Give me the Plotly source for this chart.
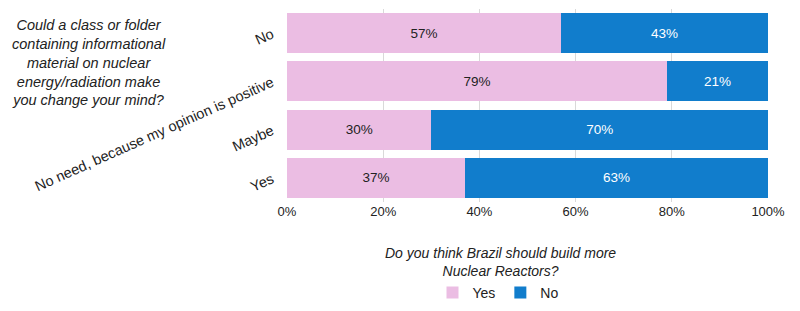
import plotly.graph_objects as go

categories = ["Yes", "Maybe", "No need, because my opinion is positive", "No"]
yes_values = [37, 30, 79, 57]
no_values = [63, 70, 21, 43]
x_ticks = [0, 20, 40, 60, 80, 100]
x_tick_labels = ["0%", "20%", "40%", "60%", "80%", "100%"]

font_family = "Liberation Sans, Arial, sans-serif"

# page has an 8px body margin; figure is sized to fit the remaining viewport
PLOT_TOP, PLOT_BOTTOM, PLOT_LEFT, PLOT_RIGHT = 9, 202, 287, 768  # page pixels
PLOT_H = PLOT_BOTTOM - PLOT_TOP
PLOT_W = PLOT_RIGHT - PLOT_LEFT


def py(page_y):
    return (PLOT_BOTTOM - page_y) / PLOT_H


def px(page_x):
    return (page_x - PLOT_LEFT) / PLOT_W


fig = go.Figure()
fig.add_trace(go.Bar(
    y=categories, x=yes_values, name="Yes", orientation="h",
    marker=dict(color="#EBBDE3", line=dict(width=0)),
    text=[f"{v}%" for v in yes_values], textposition="inside",
    insidetextanchor="middle",
    textfont=dict(color="#222222", size=13.5, family=font_family),
    hoverinfo="skip",
))
fig.add_trace(go.Bar(
    y=categories, x=no_values, name="No", orientation="h",
    marker=dict(color="#117DCC", line=dict(width=0)),
    text=[f"{v}%" for v in no_values], textposition="inside",
    insidetextanchor="middle",
    textfont=dict(color="#FFFFFF", size=13.5, family=font_family),
    hoverinfo="skip",
))

fig.update_layout(
    width=792, height=303,
    barmode="stack", bargap=0.17,
    margin=dict(l=PLOT_LEFT - 8, r=792 - (PLOT_RIGHT - 8), t=PLOT_TOP - 8,
                b=303 - (PLOT_BOTTOM - 8), pad=0),
    paper_bgcolor="white", plot_bgcolor="white",
    font=dict(family=font_family, size=13, color="#222222"),
    uniformtext=dict(mode="show", minsize=10),
    showlegend=True,
    legend=dict(orientation="h", x=px(498), xanchor="center", y=py(293), yanchor="middle",
                font=dict(size=14), itemwidth=30, traceorder="normal",
                tracegroupgap=0),
    xaxis=dict(range=[0, 100], tickvals=x_ticks, ticktext=x_tick_labels,
               showgrid=True, gridcolor="#D9D9D9", gridwidth=1, zeroline=False,
               showline=False, ticks="", tickfont=dict(size=13), automargin=False),
    yaxis=dict(showgrid=False, zeroline=False, showline=False, ticks="",
               tickangle=-24, tickfont=dict(size=14.5), ticklabelstandoff=14,
               automargin=False),
)

fig.add_annotation(
    text="<i>Do you think Brazil should build more<br>Nuclear Reactors?</i>",
    xref="paper", yref="paper", x=px(500), y=py(262), xanchor="center", yanchor="middle",
    showarrow=False, align="center", font=dict(size=14, color="#222222"),
)

fig.add_annotation(
    text="<i>Could a class or folder<br>containing informational<br>material on nuclear<br>energy/radiation make<br>you change your mind?</i>",
    xref="paper", yref="paper", x=px(89), y=py(15), xanchor="center", yanchor="top",
    showarrow=False, align="center", font=dict(size=14.5, color="#222222"),
)

fig.write_html("out.html")
